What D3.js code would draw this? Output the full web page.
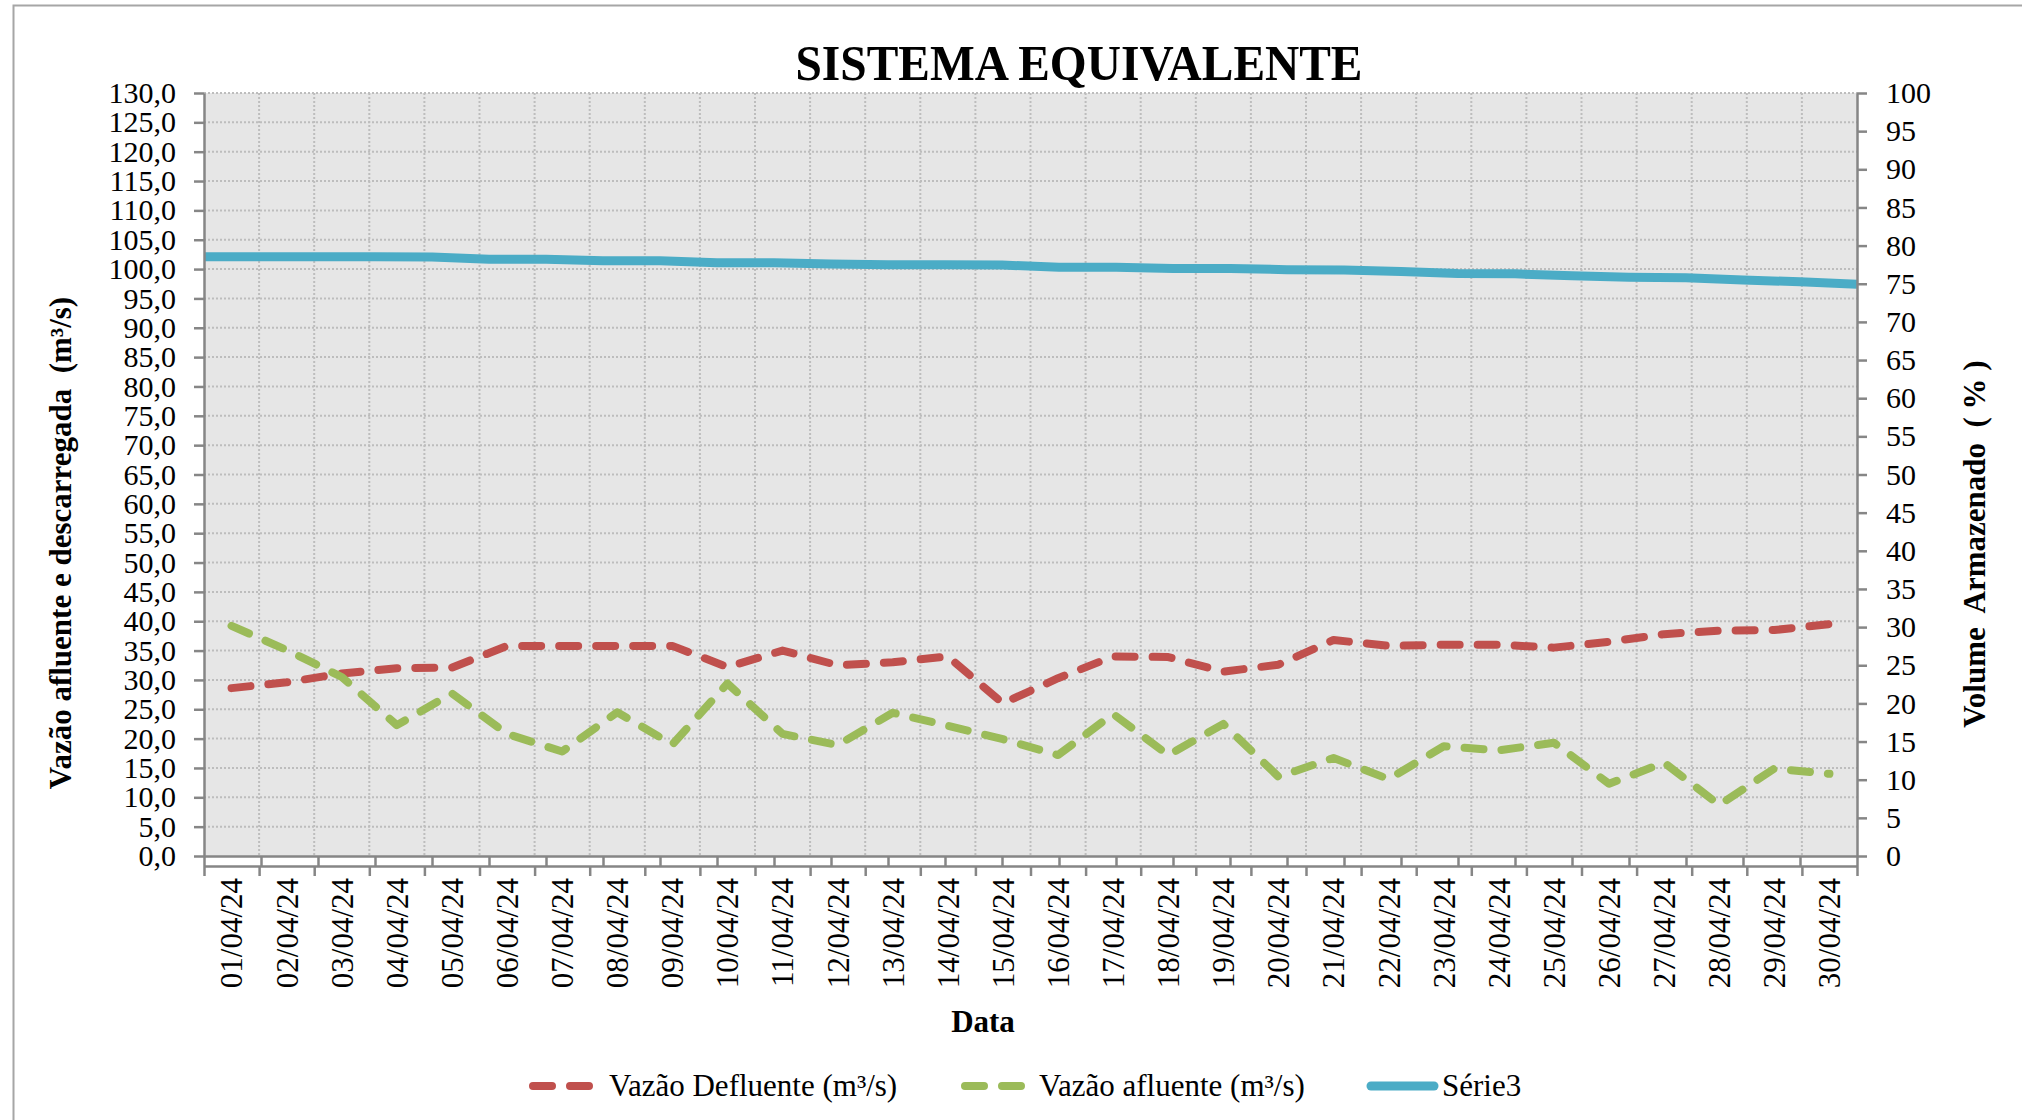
<!DOCTYPE html>
<html lang="pt">

<head>
    <meta charset="UTF-8">
    <title>Sistema Equivalente</title>
    <style>
        body {
            margin: 0;
            background: #fff;
        }

        svg text {
            font-family: "Liberation Serif", "DejaVu Serif", serif;
            fill: #000;
        }
    </style>
</head>

<body>
    <svg id="chart" width="2022" height="1120"></svg>

    <script src="https://cdnjs.cloudflare.com/ajax/libs/d3/7.8.5/d3.min.js"></script>
    <script>
        // values
        const dates = ['01/04/24', '02/04/24', '03/04/24', '04/04/24', '05/04/24', '06/04/24', '07/04/24', '08/04/24',
            '09/04/24', '10/04/24', '11/04/24', '12/04/24', '13/04/24', '14/04/24', '15/04/24', '16/04/24',
            '17/04/24', '18/04/24', '19/04/24', '20/04/24', '21/04/24', '22/04/24', '23/04/24', '24/04/24',
            '25/04/24', '26/04/24', '27/04/24', '28/04/24', '29/04/24', '30/04/24'];

        const defluente = [28.6, 29.6, 31.1, 32.0, 32.1, 35.8, 35.8, 35.8, 35.8, 32.2, 35.0, 32.5, 33.0, 34.0, 26.0,
            30.3, 34.0, 33.9, 31.4, 32.6, 36.8, 35.8, 36.0, 36.0, 35.5, 36.5, 37.8, 38.4, 38.5, 39.5];

        const afluente = [39.2, 35.1, 30.5, 22.3, 27.7, 20.8, 17.8, 24.5, 19.0, 29.4, 20.8, 18.9, 24.4, 22.2, 19.9,
            17.2, 24.2, 17.2, 22.5, 13.5, 16.7, 13.1, 18.7, 18.0, 19.3, 12.3, 15.9, 8.7, 14.9, 14.0];

        const volume = [78.55, 78.55, 78.55, 78.55, 78.5, 78.2, 78.2, 78.0, 78.0, 77.75, 77.75, 77.6, 77.5, 77.5, 77.45,
            77.15, 77.15, 77.0, 77.0, 76.85, 76.8, 76.6, 76.35, 76.3, 76.05, 75.85, 75.8, 75.5, 75.25, 74.95];

        const seriesNames = ['Vazão Defluente (m³/s)', 'Vazão afluente (m³/s)', 'Série3'];
        const leftTicks = d3.range(0, 131, 5);
        const rightTicks = d3.range(0, 101, 5);

        const colors = { red: '#c0504d', green: '#9bbb59', blue: '#4bacc6' };
        const plot = { left: 204, right: 1857, top: 93, bottom: 856 };

        const svg = d3.select('#chart');

        // outer chart border (runs off the page on the right / bottom)
        svg.append('rect')
            .attr('x', 13.5).attr('y', 5.5)
            .attr('width', 2100).attr('height', 1200)
            .attr('fill', 'none')
            .attr('stroke', '#a6a6a6')
            .attr('stroke-width', 2);

        const xBand = d3.scaleBand().domain(dates).range([plot.left, plot.right]);
        const xPoint = d3.scalePoint().domain(dates).range([plot.left, plot.right]);
        const xIdx = d3.scaleLinear().domain([0, dates.length]).range([plot.left, plot.right]);
        const yL = d3.scaleLinear().domain([0, 130]).range([plot.bottom, plot.top]);
        const yR = d3.scaleLinear().domain([0, 100]).range([plot.bottom, plot.top]);

        svg.append('rect')
            .attr('x', plot.left).attr('y', plot.top)
            .attr('width', plot.right - plot.left)
            .attr('height', plot.bottom - plot.top)
            .attr('fill', '#e6e6e6');

        // dotted grid
        const grid = svg.append('g')
            .attr('stroke', '#bdbdbd')
            .attr('stroke-width', 2)
            .attr('stroke-dasharray', '2,2');

        grid.selectAll('line.h')
            .data(leftTicks.filter(d => d > 0))
            .join('line')
            .attr('class', 'h')
            .attr('x1', plot.left).attr('x2', plot.right)
            .attr('y1', d => yL(d)).attr('y2', d => yL(d));

        grid.selectAll('line.v')
            .data(d3.range(1, dates.length))
            .join('line')
            .attr('class', 'v')
            .attr('x1', d => xIdx(d)).attr('x2', d => xIdx(d))
            .attr('y1', plot.top).attr('y2', plot.bottom);

        // series
        const lineLeft = d3.line()
            .x((d, i) => xBand(dates[i]) + xBand.bandwidth() / 2)
            .y(d => yL(d));

        const lineRight = d3.line()
            .x((d, i) => xPoint(dates[i]))
            .y(d => yR(d));

        svg.append('path')
            .attr('d', lineLeft(defluente))
            .attr('fill', 'none')
            .attr('stroke', colors.red)
            .attr('stroke-width', 8)
            .attr('stroke-linecap', 'round')
            .attr('stroke-linejoin', 'round')
            .attr('stroke-dasharray', '19,18');

        svg.append('path')
            .attr('d', lineLeft(afluente))
            .attr('fill', 'none')
            .attr('stroke', colors.green)
            .attr('stroke-width', 8)
            .attr('stroke-linecap', 'round')
            .attr('stroke-linejoin', 'round')
            .attr('stroke-dasharray', '19,18');

        svg.append('path')
            .attr('d', lineRight(volume))
            .attr('fill', 'none')
            .attr('stroke', colors.blue)
            .attr('stroke-width', 9)
            .attr('stroke-linejoin', 'round');

        // axes
        const styleAxis = (g, size) => {
            g.selectAll('path, line').attr('stroke', '#868686').attr('stroke-width', 2.5);
            g.selectAll('text')
                .attr('font-family', '"Liberation Serif", serif')
                .attr('font-size', size)
                .attr('fill', '#000');
        };

        svg.append('g')
            .attr('transform', `translate(${plot.left},0)`)
            .call(d3.axisLeft(yL)
                .tickValues(leftTicks)
                .tickFormat(d => d.toFixed(1).replace('.', ','))
                .tickSize(10).tickSizeOuter(0).tickPadding(18))
            .call(g => styleAxis(g, 30));

        svg.append('g')
            .attr('transform', `translate(${plot.right},0)`)
            .call(d3.axisRight(yR)
                .tickValues(rightTicks)
                .tickSize(10).tickSizeOuter(0).tickPadding(19))
            .call(g => styleAxis(g, 30));

        // secondary (point) axis sits on the plot bottom, category axis just below it
        svg.append('g')
            .attr('transform', `translate(0,${plot.bottom})`)
            .call(d3.axisBottom(xPoint).tickSize(10).tickSizeOuter(0).tickFormat(''))
            .call(g => styleAxis(g, 30));

        svg.append('g')
            .attr('transform', `translate(0,${plot.bottom + 10})`)
            .call(d3.axisBottom(xIdx).tickValues(d3.range(0, dates.length + 1))
                .tickSize(10).tickSizeOuter(0).tickFormat(''))
            .call(g => styleAxis(g, 30));

        svg.append('g')
            .attr('transform', `translate(0,${plot.bottom + 22})`)
            .call(d3.axisBottom(xBand).tickSize(0).tickPadding(0))
            .call(g => g.select('.domain').remove())
            .call(g => styleAxis(g, 31))
            .selectAll('text')
            .attr('x', 0).attr('y', 0)
            .attr('dy', '0.35em')
            .attr('transform', 'rotate(-90)')
            .attr('text-anchor', 'end');

        // titles
        svg.append('text')
            .attr('x', 1079).attr('y', 80)
            .attr('text-anchor', 'middle')
            .attr('font-size', 50)
            .attr('font-weight', 'bold')
            .attr('textLength', 567)
            .attr('lengthAdjust', 'spacingAndGlyphs')
            .text('SISTEMA EQUIVALENTE');

        svg.append('text')
            .attr('transform', 'translate(71,543) rotate(-90)')
            .attr('text-anchor', 'middle')
            .attr('font-size', 31)
            .attr('font-weight', 'bold')
            .style('white-space', 'pre')
            .text('Vazão afluente e descarregada  (m³/s)');

        svg.append('text')
            .attr('transform', 'translate(1985,544) rotate(-90)')
            .attr('text-anchor', 'middle')
            .attr('font-size', 31)
            .attr('font-weight', 'bold')
            .style('white-space', 'pre')
            .text('Volume  Armazenado  ( % )');

        svg.append('text')
            .attr('x', 983).attr('y', 1032)
            .attr('text-anchor', 'middle')
            .attr('font-size', 31)
            .attr('font-weight', 'bold')
            .text('Data');

        // legend
        const legendY = 1086;
        const legendItems = [
            { name: seriesNames[0], color: colors.red, x1: 533, x2: 589, tx: 609, dash: '19,18', w: 8 },
            { name: seriesNames[1], color: colors.green, x1: 965, x2: 1021, tx: 1039, dash: '19,18', w: 8 },
            { name: seriesNames[2], color: colors.blue, x1: 1371, x2: 1434, tx: 1442, dash: null, w: 9 }
        ];

        const legend = svg.append('g');
        legend.selectAll('line')
            .data(legendItems)
            .join('line')
            .attr('x1', d => d.x1).attr('x2', d => d.x2)
            .attr('y1', legendY).attr('y2', legendY)
            .attr('stroke', d => d.color)
            .attr('stroke-width', d => d.w)
            .attr('stroke-linecap', 'round')
            .attr('stroke-dasharray', d => d.dash);

        legend.selectAll('text')
            .data(legendItems)
            .join('text')
            .attr('x', d => d.tx)
            .attr('y', legendY + 10)
            .attr('font-size', 31)
            .text(d => d.name);
    </script>
</body>

</html>
